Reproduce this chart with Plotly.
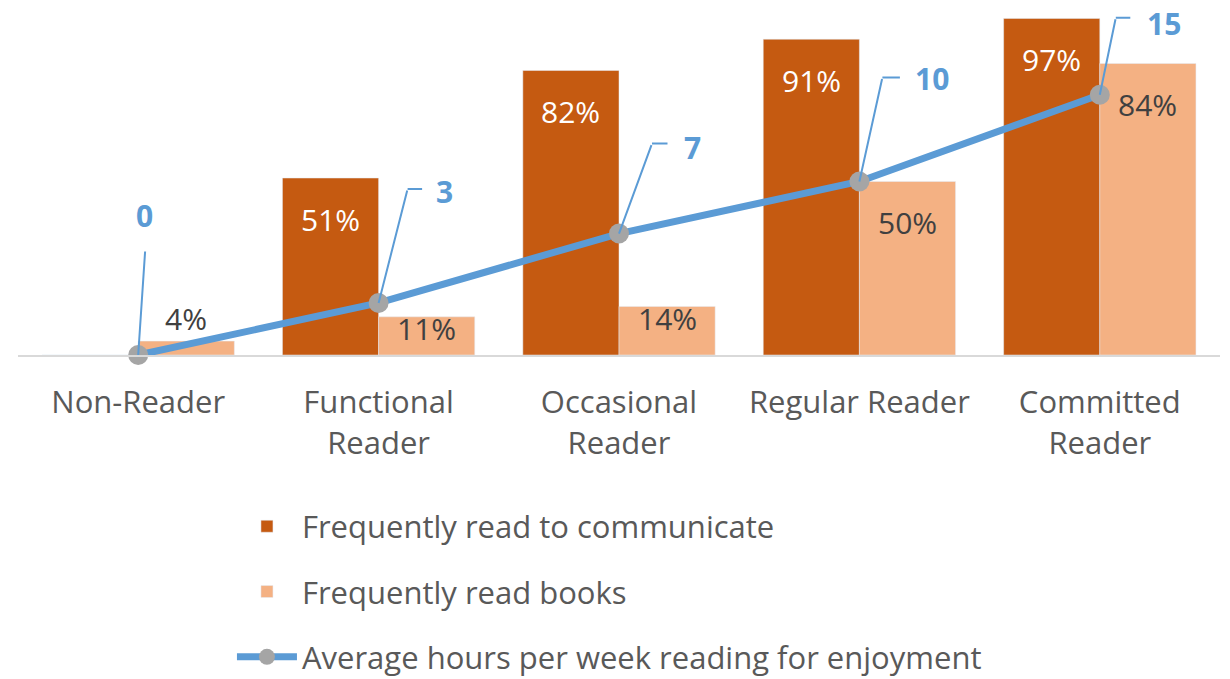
import plotly.graph_objects as go

# data
categories = ["Non-Reader", "Functional Reader", "Occasional Reader",
              "Regular Reader", "Committed Reader"]
tick_labels = ["Non-Reader", "Functional<br>Reader", "Occasional<br>Reader",
               "Regular Reader", "Committed<br>Reader"]
read_to_communicate = [0.0, 0.51, 0.82, 0.91, 0.97]
read_books = [0.04, 0.11, 0.14, 0.50, 0.84]
hours_per_week = [0, 3, 7, 10, 15]

DARK = "#C55A11"
LIGHT = "#F4B183"
BLUE = "#5B9BD5"
GREY = "#A5A5A5"
FONT = "Open Sans"

fig = go.Figure()
fig.add_trace(go.Bar(
    x=categories, y=read_to_communicate, name="Frequently read to communicate",
    marker_color=DARK, legendgroup="a", hoverinfo="skip"
))
fig.add_trace(go.Bar(
    x=categories, y=read_books, name="Frequently read books",
    marker_color=LIGHT, legendgroup="b", hoverinfo="skip"
))
fig.add_trace(go.Scatter(
    x=categories, y=hours_per_week, yaxis="y2", mode="lines+markers",
    name="Average hours per week reading for enjoyment",
    line=dict(color=BLUE, width=7), marker=dict(color=GREY, size=20),
    cliponaxis=False, legendgroup="c", hoverinfo="skip"
))

# bar value labels (inside near the top, or above very short bars)
def label_shift(v):
    if v > 0.3:
        return -41
    if v > 0.08:
        return -12
    return 23

for i, v in enumerate(read_to_communicate):
    if v > 0:
        fig.add_annotation(x=i - 0.2, y=v, text=f"{v:.0%}", showarrow=False,
                           yshift=label_shift(v), font=dict(size=30, color="white", family=FONT))
for i, v in enumerate(read_books):
    fig.add_annotation(x=i + 0.2, y=v, text=f"{v:.0%}", showarrow=False,
                       yshift=label_shift(v), font=dict(size=30, color="#404040", family=FONT))

# callouts for the line: (leader dx, leader dy, elbow length, label dx, label dy)
callouts = [(7, 105, 0, 6, 140), (29, 114, 16, 66, 111), (33, 90, 17, 73, 86),
            (23, 104, 19, 73, 103), (16, 77, 16, 64, 71)]
for i, (h, (lx, ly, el, tx, ty)) in enumerate(zip(hours_per_week, callouts)):
    fig.add_annotation(x=i, y=h, yref="y2", text="", showarrow=True, arrowhead=0,
                       ax=lx, ay=-ly, arrowwidth=2, arrowcolor=BLUE, standoff=0)
    if el:
        fig.add_annotation(x=i, y=h, yref="y2", text="", showarrow=True, arrowhead=0,
                           xshift=lx, yshift=ly, ax=el, ay=0.0001,
                           arrowwidth=2, arrowcolor=BLUE, standoff=0)
    fig.add_annotation(x=i, y=h, yref="y2", text=f"<b>{h}</b>", showarrow=False,
                       xshift=tx, yshift=ty, xanchor="center", yanchor="middle",
                       font=dict(size=30, color=BLUE, family=FONT))

fig.update_layout(
    width=1230, height=679,
    margin=dict(l=10, r=18, t=0, b=332, autoexpand=False),
    paper_bgcolor="white", plot_bgcolor="white",
    barmode="group", bargap=0.2, bargroupgap=0,
    font=dict(family=FONT, color="#595959"),
    xaxis=dict(type="category", tickvals=categories, ticktext=tick_labels,
               showline=True, linecolor="#D9D9D9", linewidth=2,
               showgrid=False, ticks="", ticklabelstandoff=19,
               tickfont=dict(size=31, color="#595959")),
    yaxis=dict(range=[0, 1], visible=False, showgrid=False),
    yaxis2=dict(range=[0, 20], overlaying="y", visible=False, showgrid=False),
    legend=dict(x=0.178, y=-0.4167, xanchor="left", yanchor="top",
                orientation="v", tracegroupgap=22, itemwidth=60,
                font=dict(size=31, color="#595959")),
    showlegend=True,
)

fig.write_html("out.html")
